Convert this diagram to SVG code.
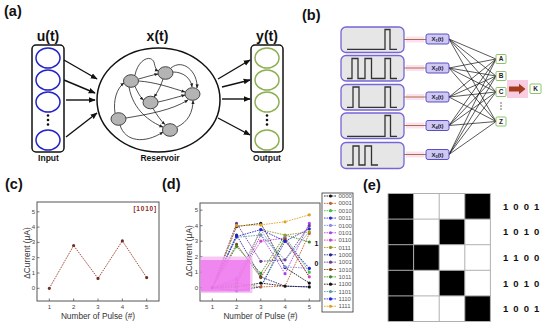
<svg xmlns="http://www.w3.org/2000/svg" width="550" height="327" viewBox="0 0 550 327">
<style>
text{font-family:"Liberation Sans",Arial,sans-serif}
.pl{font-size:14.5px;font-weight:bold;fill:#111}
.ttl{font-size:14px;font-weight:bold;fill:#111;text-anchor:middle}
.sm{font-size:8.5px;font-weight:bold;fill:#111;text-anchor:middle}
.inc{fill:none;stroke:#2424c8;stroke-width:1.5}
.outc{fill:none;stroke:#8db052;stroke-width:1.5}
.box{fill:#fff;stroke:#111;stroke-width:1.5}
.arr{stroke:#111;stroke-width:1.4;fill:none}
.net{stroke:#222;stroke-width:0.8;fill:none}
.node{fill:#b4b4b4;stroke:#333;stroke-width:0.9}
.wbox{fill:#e6e6e6;stroke:#7466d8;stroke-width:1.3}
.wave{fill:none;stroke:#333;stroke-width:1.3}
.xl{fill:#cfc8f2;stroke:#5a4fc8;stroke-width:1}
.xt{font-size:6px;font-weight:bold;fill:#1a1a3a;text-anchor:middle}
.lb{fill:#fff;stroke:#8cc36a;stroke-width:1}
.lt{font-size:6.5px;font-weight:bold;fill:#222;text-anchor:middle}
.frame{fill:#fff;stroke:#555;stroke-width:1}
.tick{font-size:6px;fill:#444}
.axt{font-size:8.3px;fill:#333;text-anchor:middle}
.dl{fill:none;stroke-width:0.9;stroke-dasharray:1.6 1}
.dots{fill:none;stroke-width:3.2;stroke-linecap:round}
.leg{font-size:6px;fill:#555}
.bits{font-size:9.5px;font-weight:bold;fill:#111;letter-spacing:1.2px}
</style>
<defs>
<marker id="ah" viewBox="0 0 10 10" refX="9" refY="5" markerWidth="7" markerHeight="7" markerUnits="userSpaceOnUse" orient="auto"><path d="M0,1 L10,5 L0,9 z" fill="#111"/></marker>
<marker id="sh" viewBox="0 0 10 10" refX="9" refY="5" markerWidth="4" markerHeight="4" markerUnits="userSpaceOnUse" orient="auto"><path d="M0,1 L10,5 L0,9 z" fill="#222"/></marker>
</defs>
<rect width="550" height="327" fill="#fff"/>

<!-- Panel (a) -->
<text class="pl" x="4" y="15.5">(a)</text>
<g id="input">
<text class="ttl" x="48" y="41">u(t)</text>
<rect class="box" x="32" y="45" width="32" height="107" rx="4"/>
<ellipse class="inc" cx="48" cy="58" rx="12" ry="10"/>
<ellipse class="inc" cx="48" cy="80" rx="12" ry="10"/>
<ellipse class="inc" cx="48" cy="102" rx="12" ry="10"/>
<circle cx="48" cy="115.5" r="1.3" fill="#111"/><circle cx="48" cy="120" r="1.3" fill="#111"/><circle cx="48" cy="124.5" r="1.3" fill="#111"/>
<ellipse class="inc" cx="48" cy="140" rx="12" ry="10"/>
<text class="sm" x="48.5" y="161">Input</text>
</g>
<g id="reservoir">
<text class="ttl" x="157.5" y="41">x(t)</text>
<ellipse cx="158.5" cy="100" rx="61.5" ry="52" fill="#fff" stroke="#111" stroke-width="1.5"/>
<g class="net" marker-end="url(#sh)">
<path d="M135,75 C138,60 150,54 154,62 C155,67 156,70 158.5,71"/>
<path d="M173,72 C183,72 191,78 192,87"/>
<path d="M138.5,81 C155,82 172,88 185,92"/>
<path d="M138.5,79 C146,77 152,75 158,74"/>
<path d="M135,86.5 C138,93 141,98 143.5,100"/>
<path d="M163,79 C160,88 157,93 154,97"/>
<path d="M158,102 C168,100 177,97 185,95"/>
<path d="M126,118 C150,114 172,110 188,100"/>
<path d="M120,125 C125,142 145,144 163,132"/>
<path d="M115,113 C113,100 117,88 124,83"/>
<path d="M129,87 C133,110 150,122 163,127"/>
<path d="M177,127 C188,122 193,112 193,100.5"/>
<path d="M153,108.5 C157,115 161,121 165,124.5"/>
<path d="M171,68 C183,58 198,72 197,88"/>
</g>
<ellipse class="node" cx="131" cy="81" rx="7.5" ry="6.3"/>
<ellipse class="node" cx="165.5" cy="73" rx="7.5" ry="6.3"/>
<ellipse class="node" cx="192.5" cy="94" rx="7.5" ry="6.3"/>
<ellipse class="node" cx="150.5" cy="102.5" rx="7.5" ry="6.3"/>
<ellipse class="node" cx="118.5" cy="119" rx="7.5" ry="6.3"/>
<ellipse class="node" cx="170" cy="130" rx="7.5" ry="6.3"/>
<text class="sm" x="160" y="161">Reservoir</text>
</g>
<g id="output">
<text class="ttl" x="267" y="41">y(t)</text>
<rect class="box" x="251" y="45" width="32" height="107" rx="4"/>
<ellipse class="outc" cx="267" cy="58" rx="12" ry="10"/>
<ellipse class="outc" cx="267" cy="80" rx="12" ry="10"/>
<ellipse class="outc" cx="267" cy="102" rx="12" ry="10"/>
<circle cx="267" cy="115.5" r="1.3" fill="#111"/><circle cx="267" cy="120" r="1.3" fill="#111"/><circle cx="267" cy="124.5" r="1.3" fill="#111"/>
<ellipse class="outc" cx="267" cy="140" rx="12" ry="10"/>
<text class="sm" x="267" y="161">Output</text>
</g>
<g id="a-connectors" class="arr" marker-end="url(#ah)">
<path d="M64,60 L97,79"/>
<path d="M64,80 L95,93"/>
<path d="M66,100 L95,100"/>
<path d="M66,137 L97,113"/>
<path d="M218,79 L250,60"/>
<path d="M222,87 L250,80"/>
<path d="M222,99 L250,99"/>
<path d="M218,118 L250,135"/>
</g>

<!-- Panel (b) -->
<text class="pl" x="302" y="19.5">(b)</text>
<g id="waveforms">
<rect class="wbox" x="341" y="27" width="63" height="25.5" rx="5"/>
<path class="wave" d="M347,49.3 H385 V29.5 H390 V49.3 H397"/>
<rect class="wbox" x="341" y="55.5" width="63" height="25.5" rx="5"/>
<path class="wave" d="M347,78.5 H352 V58.5 H358 V78.5 H365 V58.5 H371.5 V78.5 H385 V58.5 H390.5 V78.5 H397"/>
<rect class="wbox" x="341" y="84.5" width="63" height="25.5" rx="5"/>
<path class="wave" d="M347,107.3 H353 V87 H359 V107.3 H385 V87 H390.5 V107.3 H397"/>
<rect class="wbox" x="341" y="113" width="63" height="25.5" rx="5"/>
<path class="wave" d="M347,136.3 H385 V115.5 H390.5 V136.3 H397"/>
<rect class="wbox" x="341" y="142.5" width="63" height="26" rx="5"/>
<path class="wave" d="M347,165 H353 V146 H359 V165 H365 V146 H371.5 V165 H378"/>
</g>
<g id="b-connectors">
<g fill="#fbe1ee">
<rect x="406" y="36.5" width="18" height="6"/><rect x="406" y="65" width="18" height="6"/><rect x="406" y="94" width="18" height="6"/><rect x="406" y="122.5" width="18" height="6"/><rect x="406" y="151.5" width="18" height="6"/>
</g>
<path d="M404,39.5 H426 M404,68 H426 M404,97 H426 M404,125.5 H426 M404,154.5 H426" stroke="#a0603a" stroke-width="0.9"/>
<path stroke="#111" stroke-width="0.7" fill="none" d="M449,39 L496,59 M449,39 L496,76 M449,39 L496,92 M449,39 L496,121.5 M449,68 L496,59 M449,68 L496,76 M449,68 L496,92 M449,68 L496,121.5 M449,97 L496,59 M449,97 L496,76 M449,97 L496,92 M449,97 L496,121.5 M449,125.5 L496,59 M449,125.5 L496,76 M449,125.5 L496,92 M449,125.5 L496,121.5 M449,154.5 L496,59 M449,154.5 L496,76 M449,154.5 L496,92 M449,154.5 L496,121.5"/>
<rect x="507" y="80" width="21" height="18" fill="#f8cde2"/>
<polygon points="509,86.5 519,86.5 519,83.8 525.5,89 519,94.2 519,91.5 509,91.5" fill="#a33b1d"/>
</g>
<g id="xlabels">
<rect class="xl" x="426" y="34" width="23" height="10" rx="2"/><text class="xt" x="437.5" y="41.3">X<tspan font-size="4" dy="1">1</tspan><tspan dy="-1">(t)</tspan></text>
<rect class="xl" x="426" y="63" width="23" height="10" rx="2"/><text class="xt" x="437.5" y="70.3">X<tspan font-size="4" dy="1">2</tspan><tspan dy="-1">(t)</tspan></text>
<rect class="xl" x="426" y="92" width="23" height="10" rx="2"/><text class="xt" x="437.5" y="99.3">X<tspan font-size="4" dy="1">3</tspan><tspan dy="-1">(t)</tspan></text>
<rect class="xl" x="426" y="120.5" width="23" height="10" rx="2"/><text class="xt" x="437.5" y="127.8">X<tspan font-size="4" dy="1">4</tspan><tspan dy="-1">(t)</tspan></text>
<rect class="xl" x="426" y="149.5" width="23" height="10" rx="2"/><text class="xt" x="437.5" y="156.8">X<tspan font-size="4" dy="1">5</tspan><tspan dy="-1">(t)</tspan></text>
</g>
<g id="letters">
<rect class="lb" x="496" y="54.5" width="10" height="9" rx="1"/><text class="lt" x="501" y="61.3">A</text>
<rect class="lb" x="496" y="71.5" width="10" height="9" rx="1"/><text class="lt" x="501" y="78.3">B</text>
<rect class="lb" x="496" y="87.5" width="10" height="9" rx="1"/><text class="lt" x="501" y="94.3">C</text>
<circle cx="501" cy="103" r="0.8" fill="#555"/><circle cx="501" cy="106" r="0.8" fill="#555"/><circle cx="501" cy="109" r="0.8" fill="#555"/>
<rect class="lb" x="496" y="117" width="10" height="9" rx="1"/><text class="lt" x="501" y="123.8">Z</text>
<rect class="lb" x="530" y="84" width="11" height="9.5" rx="1"/><text class="lt" x="535.5" y="91.2">K</text>
</g>

<!-- Panel (c) -->
<text class="pl" x="5" y="189">(c)</text>
<g id="plot-c">
<rect class="frame" x="37" y="202" width="122" height="99"/>
<path stroke="#555" stroke-width="0.8" d="M37,211.8 h2.5 M37,227.1 h2.5 M37,242.4 h2.5 M37,257.7 h2.5 M37,273 h2.5 M37,288.3 h2.5 M49.3,301 v-2.5 M73.65,301 v-2.5 M98,301 v-2.5 M122.35,301 v-2.5 M146.7,301 v-2.5"/>
<g class="tick" text-anchor="end">
<text x="35" y="213.8">5</text><text x="35" y="229.1">4</text><text x="35" y="244.4">3</text><text x="35" y="259.7">2</text><text x="35" y="275">1</text><text x="35" y="290.3">0</text>
</g>
<g class="tick" text-anchor="middle">
<text x="49.3" y="309">1</text><text x="73.65" y="309">2</text><text x="98" y="309">3</text><text x="122.35" y="309">4</text><text x="146.7" y="309">5</text>
</g>
<text class="axt" x="98" y="318.5">Number of Pulse (#)</text>
<text class="axt" font-size="7.5" transform="translate(29.5,253) rotate(-90)">ΔCurrent (μA)</text>
<text x="157" y="211" font-size="6.5" font-weight="bold" fill="#8b2a1a" text-anchor="end" letter-spacing="0.8">[1010]</text>
<polyline class="dl" stroke="#9b3a2a" points="49.3,288.3 73.65,245.5 98,278.4 122.35,240.9 146.7,277.6"/>
<path class="dots" stroke="#6b3020" d="M49.3,288.3h0M73.65,245.5h0M98,278.4h0M122.35,240.9h0M146.7,277.6h0"/>
</g>

<!-- Panel (d) -->
<text class="pl" x="162" y="189">(d)</text>
<g id="plot-d">
<rect class="frame" x="200" y="203" width="120" height="98"/>
<path stroke="#555" stroke-width="0.8" d="M200,210.2 h2.5 M200,225.7 h2.5 M200,241.2 h2.5 M200,256.7 h2.5 M200,272.2 h2.5 M200,287.7 h2.5 M212.3,301 v-2.5 M236.55,301 v-2.5 M260.8,301 v-2.5 M285.05,301 v-2.5 M309.3,301 v-2.5"/>
<g class="tick" text-anchor="end">
<text x="198" y="212.2">5</text><text x="198" y="227.7">4</text><text x="198" y="243.2">3</text><text x="198" y="258.7">2</text><text x="198" y="274.2">1</text><text x="198" y="289.7">0</text>
</g>
<g class="tick" text-anchor="middle">
<text x="212.3" y="309">1</text><text x="236.55" y="309">2</text><text x="260.8" y="309">3</text><text x="285.05" y="309">4</text><text x="309.3" y="309">5</text>
</g>
<text class="axt" x="260.5" y="318.5">Number of Pulse (#)</text>
<text class="axt" font-size="7.5" transform="translate(192,251) rotate(-90)">ΔCurrent (μA)</text>
<g id="series">
<polyline class="dl" stroke="#111" points="212.3,287.7 236.55,286.9 260.8,283.05 285.05,286.15 309.3,286.9"/>
<polyline class="dl" stroke="#c0602a" points="212.3,287.7 236.55,283.05 260.8,286.9 285.05,286.15 309.3,233.45"/>
<polyline class="dl" stroke="#44c044" points="212.3,287.7 236.55,286.15 260.8,287.7 285.05,236.55 309.3,272.2"/>
<polyline class="dl" stroke="#2a2ad0" points="212.3,287.7 236.55,290.8 260.8,286.9 285.05,241.2 309.3,228.8"/>
<polyline class="dl" stroke="#8888ee" points="212.3,287.7 236.55,278.4 260.8,229.6 285.05,266.8 309.3,268.3"/>
<polyline class="dl" stroke="#a844ee" points="212.3,287.7 236.55,283.05 260.8,235 285.05,273.75 309.3,223.4"/>
<polyline class="dl" stroke="#cc44cc" points="212.3,287.7 236.55,279.95 260.8,241.2 285.05,238.1 309.3,276.85"/>
<polyline class="dl" stroke="#9a9a22" points="212.3,287.7 236.55,284.6 260.8,229.6 285.05,235 309.3,231.9"/>
<polyline class="dl" stroke="#222288" points="212.3,287.7 236.55,235 260.8,276.85 285.05,286.15 309.3,286.9"/>
<polyline class="dl" stroke="#6a3d9a" points="212.3,287.7 236.55,223.4 260.8,261.35 285.05,259.8 309.3,225.7"/>
<polyline class="dl" stroke="#8b4513" points="212.3,287.7 236.55,244.3 260.8,277.6 285.05,239.65 309.3,276.85"/>
<polyline class="dl" stroke="#3d8c2a" points="212.3,287.7 236.55,246.6 260.8,273.3 285.05,235 309.3,242"/>
<polyline class="dl" stroke="#111" points="212.3,287.7 236.55,226.5 260.8,223.4 285.05,267.55 309.3,283.05"/>
<polyline class="dl" stroke="#5f9ea0" points="212.3,287.7 236.55,237.3 260.8,235 285.05,259.8 309.3,231.9"/>
<polyline class="dl" stroke="#2222dd" points="212.3,287.7 236.55,236.55 260.8,229.6 285.05,241.2 309.3,268.3"/>
<polyline class="dl" stroke="#e0a020" points="212.3,287.7 236.55,225.7 260.8,224.9 285.05,221.8 309.3,214.85"/>
<path class="dots" stroke="#111" d="M212.3,287.7h0M236.55,286.9h0M260.8,283.05h0M285.05,286.15h0M309.3,286.9h0M236.55,226.5h0M260.8,223.4h0M285.05,267.55h0M309.3,283.05h0"/>
<path class="dots" stroke="#c0602a" d="M236.55,283.05h0M260.8,286.9h0M309.3,233.45h0"/>
<path class="dots" stroke="#44c044" d="M236.55,286.15h0M285.05,236.55h0M309.3,272.2h0"/>
<path class="dots" stroke="#2a2ad0" d="M236.55,290.8h0M285.05,241.2h0M309.3,228.8h0"/>
<path class="dots" stroke="#8888ee" d="M236.55,278.4h0M260.8,229.6h0M285.05,266.8h0M309.3,268.3h0"/>
<path class="dots" stroke="#a844ee" d="M260.8,235h0M285.05,273.75h0M309.3,223.4h0"/>
<path class="dots" stroke="#cc44cc" d="M236.55,279.95h0M260.8,241.2h0M285.05,238.1h0M309.3,276.85h0"/>
<path class="dots" stroke="#9a9a22" d="M236.55,284.6h0M285.05,235h0M309.3,231.9h0"/>
<path class="dots" stroke="#222288" d="M236.55,235h0M260.8,276.85h0"/>
<path class="dots" stroke="#6a3d9a" d="M236.55,223.4h0M260.8,261.35h0M285.05,259.8h0M309.3,225.7h0"/>
<path class="dots" stroke="#8b4513" d="M236.55,244.3h0M260.8,277.6h0M285.05,239.65h0"/>
<path class="dots" stroke="#3d8c2a" d="M236.55,246.6h0M260.8,273.3h0M309.3,242h0"/>
<path class="dots" stroke="#5f9ea0" d="M236.55,237.3h0M260.8,235h0"/>
<path class="dots" stroke="#2222dd" d="M236.55,236.55h0M260.8,229.6h0M285.05,241.2h0M309.3,268.3h0"/>
<path class="dots" stroke="#e0a020" d="M236.55,225.7h0M260.8,224.9h0M285.05,221.8h0M309.3,214.85h0"/>
</g>
<rect x="200.5" y="256.5" width="52" height="36.5" fill="#f5b0f0" opacity="0.7"/>
<rect x="200.5" y="260" width="49.5" height="31.5" fill="#ee70ee" opacity="0.75"/>
<text x="318.5" y="246" font-size="7" font-weight="bold" fill="#111" text-anchor="end">1</text>
<text x="318.5" y="266" font-size="7" font-weight="bold" fill="#111" text-anchor="end">0</text>
</g>
<g id="legend">
<rect x="322" y="193" width="31" height="119" fill="#fff" stroke="#333" stroke-width="0.8"/>
<g stroke-width="0.9" stroke-dasharray="1.6 1">
<path stroke="#111" d="M324,196 h13"/><path stroke="#c0602a" d="M324,203.35 h13"/><path stroke="#44c044" d="M324,210.7 h13"/><path stroke="#2a2ad0" d="M324,218.05 h13"/>
<path stroke="#8888ee" d="M324,225.4 h13"/><path stroke="#a844ee" d="M324,232.75 h13"/><path stroke="#cc44cc" d="M324,240.1 h13"/><path stroke="#9a9a22" d="M324,247.45 h13"/>
<path stroke="#222288" d="M324,254.8 h13"/><path stroke="#6a3d9a" d="M324,262.15 h13"/><path stroke="#8b4513" d="M324,269.5 h13"/><path stroke="#3d8c2a" d="M324,276.85 h13"/>
<path stroke="#111" d="M324,284.2 h13"/><path stroke="#5f9ea0" d="M324,291.55 h13"/><path stroke="#2222dd" d="M324,298.9 h13"/><path stroke="#e0a020" d="M324,306.25 h13"/>
</g>
<g class="dots" stroke-width="3">
<path stroke="#111" d="M330.5,196h0"/><path stroke="#c0602a" d="M330.5,203.35h0"/><path stroke="#44c044" d="M330.5,210.7h0"/><path stroke="#2a2ad0" d="M330.5,218.05h0"/>
<path stroke="#8888ee" d="M330.5,225.4h0"/><path stroke="#a844ee" d="M330.5,232.75h0"/><path stroke="#cc44cc" d="M330.5,240.1h0"/><path stroke="#9a9a22" d="M330.5,247.45h0"/>
<path stroke="#222288" d="M330.5,254.8h0"/><path stroke="#6a3d9a" d="M330.5,262.15h0"/><path stroke="#8b4513" d="M330.5,269.5h0"/><path stroke="#3d8c2a" d="M330.5,276.85h0"/>
<path stroke="#111" d="M330.5,284.2h0"/><path stroke="#5f9ea0" d="M330.5,291.55h0"/><path stroke="#2222dd" d="M330.5,298.9h0"/><path stroke="#e0a020" d="M330.5,306.25h0"/>
</g>
<g class="leg">
<text x="338.5" y="198.1">0000</text><text x="338.5" y="205.45">0001</text><text x="338.5" y="212.8">0010</text><text x="338.5" y="220.15">0011</text>
<text x="338.5" y="227.5">0100</text><text x="338.5" y="234.85">0101</text><text x="338.5" y="242.2">0110</text><text x="338.5" y="249.55">0111</text>
<text x="338.5" y="256.9">1000</text><text x="338.5" y="264.25">1001</text><text x="338.5" y="271.6">1010</text><text x="338.5" y="278.95">1011</text>
<text x="338.5" y="286.3">1100</text><text x="338.5" y="293.65">1101</text><text x="338.5" y="301">1110</text><text x="338.5" y="308.35">1111</text>
</g>
</g>

<!-- Panel (e) -->
<text class="pl" x="363" y="190">(e)</text>
<g id="grid-e">
<rect x="388" y="193.5" width="102.4" height="128" fill="#fff"/>
<g fill="#000">
<rect x="388" y="193.5" width="25.6" height="128"/>
<rect x="464.8" y="193.5" width="25.6" height="25.6"/>
<rect x="439.2" y="219.1" width="25.6" height="25.6"/>
<rect x="413.6" y="244.7" width="25.6" height="25.6"/>
<rect x="439.2" y="270.3" width="25.6" height="25.6"/>
<rect x="464.8" y="295.9" width="25.6" height="25.6"/>
</g>
<path stroke="#b0b0b0" stroke-width="1" fill="none" d="M388,193.5 h102.4 v128 h-102.4 z M413.6,193.5 v128 M439.2,193.5 v128 M464.8,193.5 v128 M388,219.1 h102.4 M388,244.7 h102.4 M388,270.3 h102.4 M388,295.9 h102.4"/>
<text class="bits" x="503" y="209.8">1 0 0 1</text>
<text class="bits" x="503" y="235.4">1 0 1 0</text>
<text class="bits" x="503" y="261">1 1 0 0</text>
<text class="bits" x="503" y="286.6">1 0 1 0</text>
<text class="bits" x="503" y="312.2">1 0 0 1</text>
</g>
</svg>
